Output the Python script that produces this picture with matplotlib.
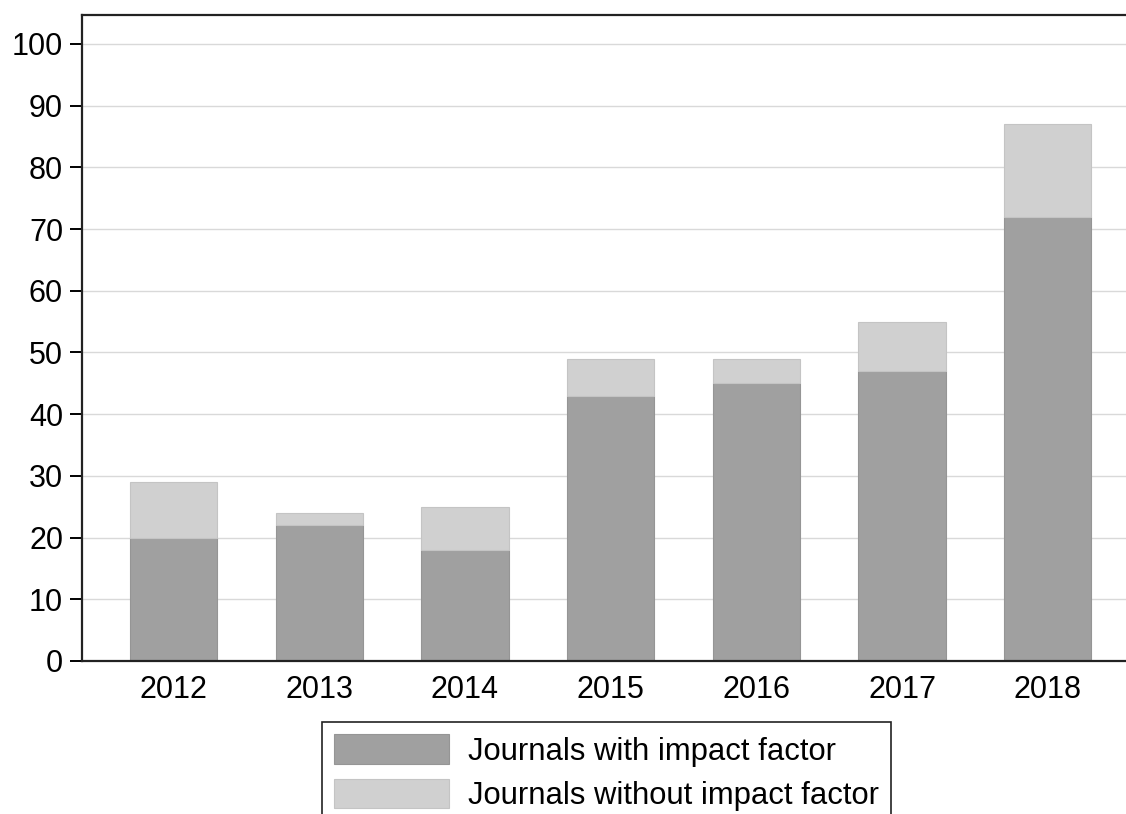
import matplotlib.pyplot as plt
import numpy as np

plt.rcParams['font.family'] = ['Liberation Sans', 'DejaVu Sans']

years = ["2012", "2013", "2014", "2015", "2016", "2017", "2018"]
with_if = [20, 22, 18, 43, 45, 47, 72]
without_if = [9, 2, 7, 6, 4, 8, 15]

fig = plt.figure(figsize=(11.26, 8.14), dpi=100)
ax = fig.add_axes([82 / 1126, 1 - 661 / 814, 1 - 82 / 1126, (661 - 15) / 814])

x = np.arange(len(years))
b1 = ax.bar(x, with_if, width=0.6, color="#a0a0a0", edgecolor="#959595",
            linewidth=0.8, label="Journals with impact factor", zorder=2)
b2 = ax.bar(x, without_if, width=0.6, bottom=with_if, color="#d0d0d0",
            edgecolor="#c4c4c4", linewidth=0.8,
            label="Journals without impact factor", zorder=2)

ax.set_xlim(-0.628, 6.537)
ax.set_ylim(0, 104.7)
ax.set_yticks(range(0, 101, 10))
ax.set_xticks(x)
ax.set_xticklabels(years)
ax.yaxis.grid(True, color="#d9d9d9", linewidth=1)
ax.set_axisbelow(True)

ax.spines['right'].set_visible(False)
for s in ['left', 'top', 'bottom']:
    ax.spines[s].set_linewidth(1.6)
    ax.spines[s].set_color("#222222")

ax.tick_params(axis='y', length=8.6, width=1.4, labelsize=22, pad=5)
ax.tick_params(axis='x', length=0, labelsize=22, pad=10)

leg = fig.legend(handles=[b1, b2], loc="upper left",
                 bbox_to_anchor=(322 / 1126, 1 - 722 / 814),
                 borderaxespad=0, fontsize=22.3, handlelength=3.7,
                 handleheight=1.1, labelspacing=0.38, handletextpad=0.6,
                 borderpad=0.4, fancybox=False, framealpha=1)
leg.get_frame().set_edgecolor("#222222")
leg.get_frame().set_linewidth(1.2)

fig.savefig("out.png", dpi=100)
